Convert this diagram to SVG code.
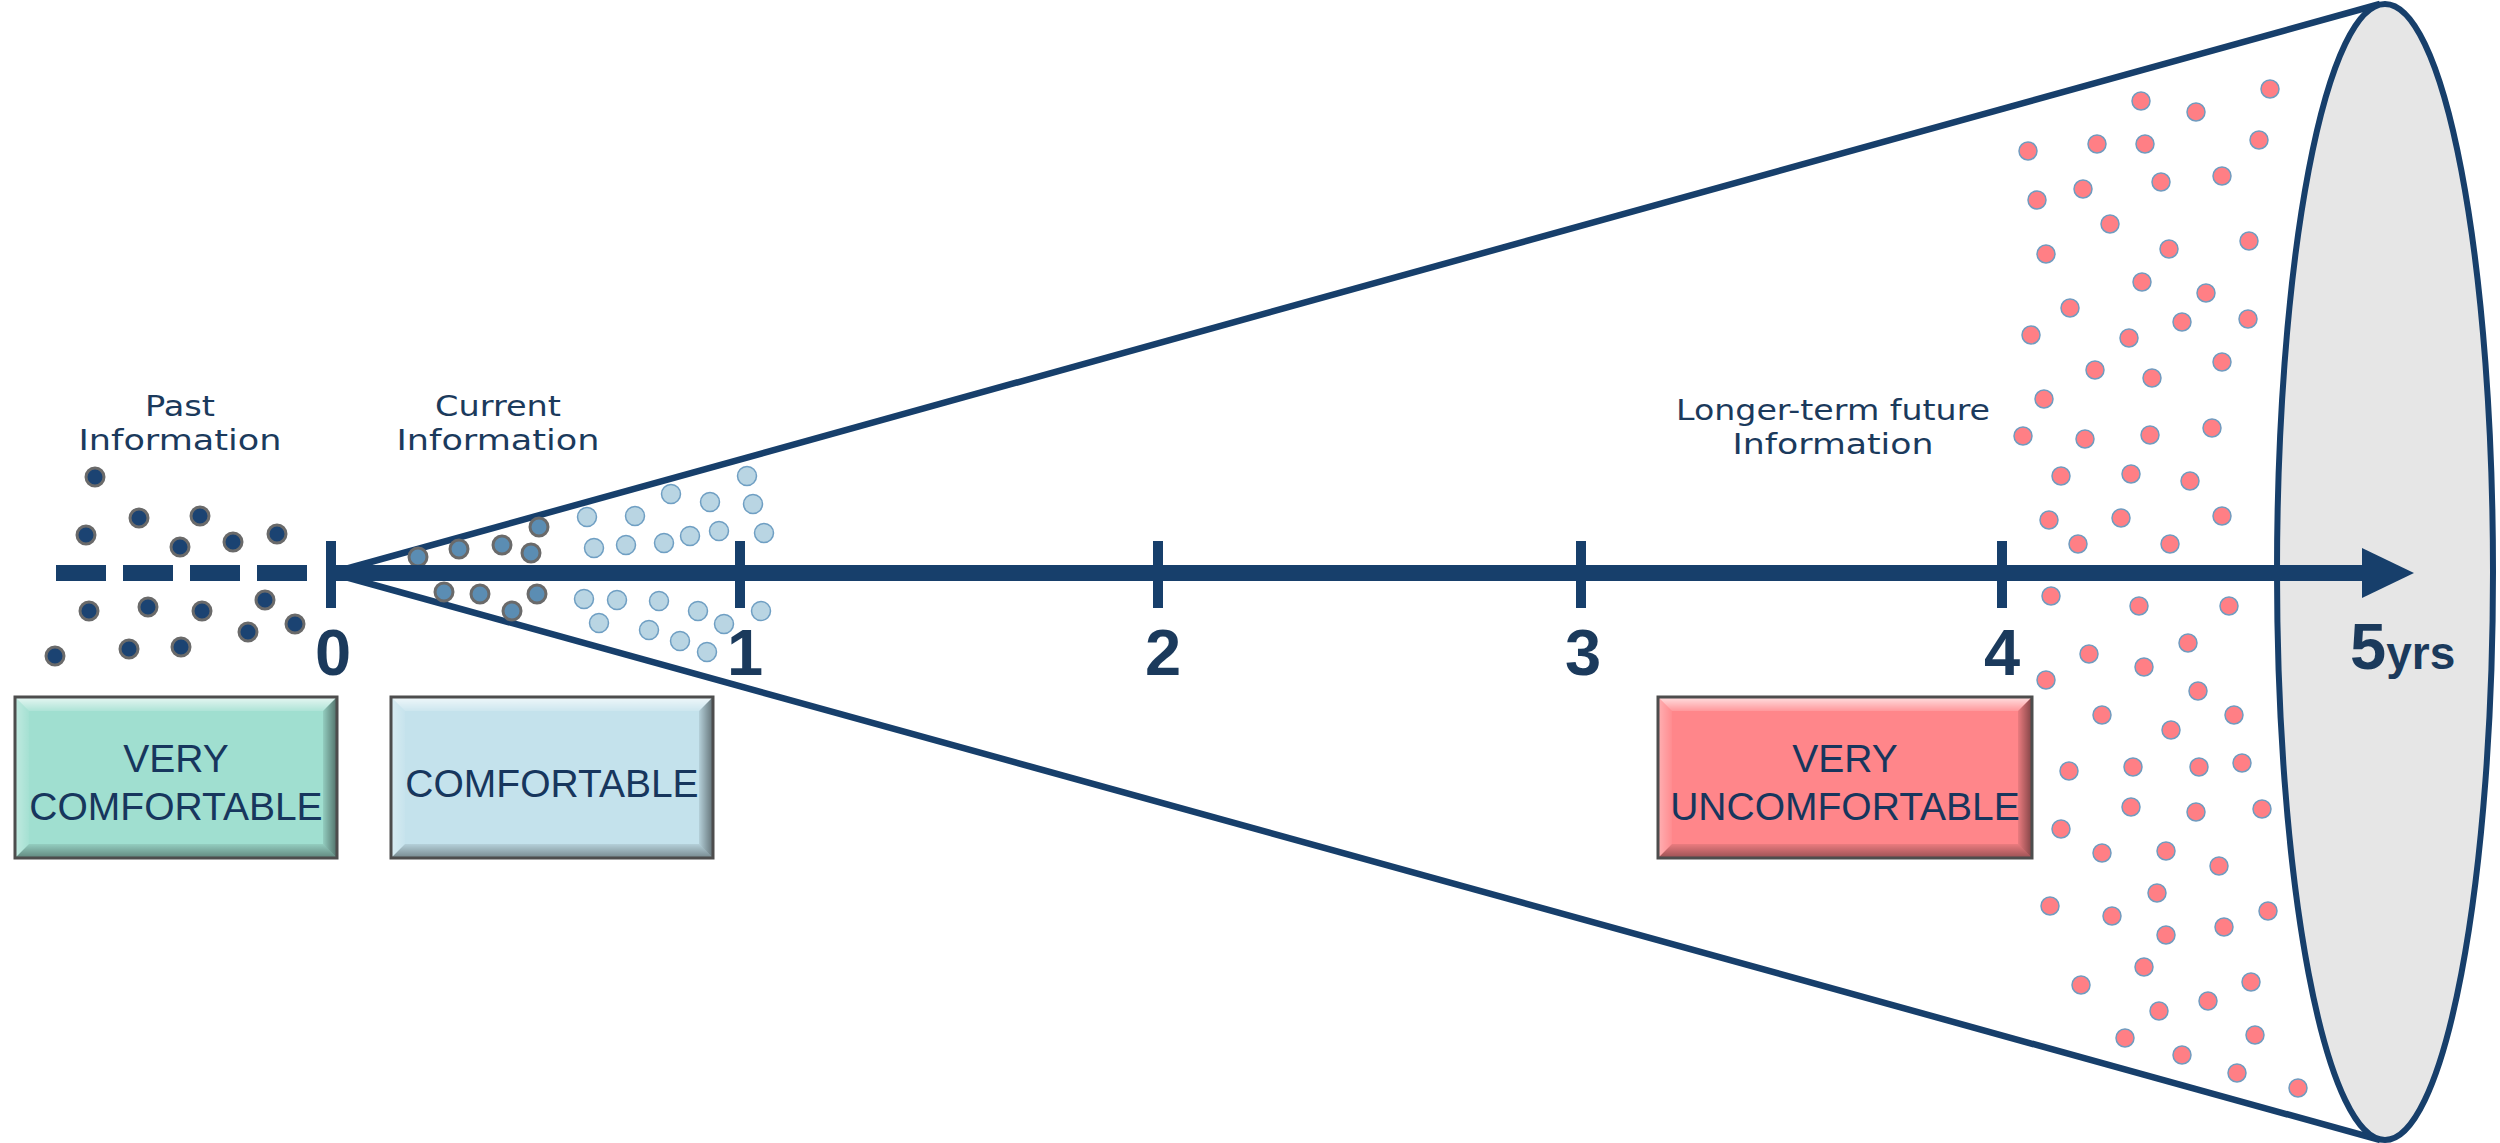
<svg xmlns="http://www.w3.org/2000/svg" width="2500" height="1143" viewBox="0 0 2500 1143">
<defs>
<style>
.ln{stroke:#173f6b;stroke-width:6.5;fill:none}
.lbl{font-family:"DejaVu Sans","Liberation Sans",sans-serif;font-size:28.5px;fill:#1b3a5c;text-anchor:middle}
.num{font-family:"Liberation Sans",Arial,sans-serif;font-weight:bold;font-size:65px;fill:#1b3a5c;text-anchor:middle}
.bx{font-family:"Liberation Sans",Arial,sans-serif;font-size:39px;fill:#17365d;text-anchor:middle}
.pd{fill:#1b4372;stroke:#6a6a6a;stroke-width:3}
.cd{fill:#5b8db3;stroke:#6a6a6a;stroke-width:3}
.lb{fill:#b9d5e3;stroke:#6f9fc3;stroke-width:1.5}
.rd{fill:#ff7f85;stroke:#6f9cc0;stroke-width:1.5}
.frame{stroke:#4d4d4d;stroke-width:3}
.bt{fill:url(#gt)}
.bb{fill:url(#gb)}
.bl{fill:url(#gl)}
.br{fill:url(#gr)}
</style>
<linearGradient id="gt" x1="0" y1="0" x2="0" y2="1"><stop offset="0" stop-color="#fff" stop-opacity="0.75"/><stop offset="1" stop-color="#fff" stop-opacity="0.15"/></linearGradient>
<linearGradient id="gb" x1="0" y1="0" x2="0" y2="1"><stop offset="0" stop-color="#000" stop-opacity="0.08"/><stop offset="1" stop-color="#000" stop-opacity="0.4"/></linearGradient>
<linearGradient id="gl" x1="0" y1="0" x2="1" y2="0"><stop offset="0" stop-color="#fff" stop-opacity="0.35"/><stop offset="1" stop-color="#fff" stop-opacity="0.05"/></linearGradient>
<linearGradient id="gr" x1="0" y1="0" x2="1" y2="0"><stop offset="0" stop-color="#000" stop-opacity="0.08"/><stop offset="1" stop-color="#000" stop-opacity="0.5"/></linearGradient>
</defs>
<rect width="2500" height="1143" fill="#fff"/>

<g id="cone">
<line class="ln" x1="331" y1="573" x2="2380" y2="4"/>
<line class="ln" x1="331" y1="573" x2="2380" y2="1140"/>
</g>

<g id="future-dots">
<circle class="rd" cx="2141" cy="101" r="9"/><circle class="rd" cx="2196" cy="112" r="9"/><circle class="rd" cx="2270" cy="89" r="9"/>
<circle class="rd" cx="2028" cy="151" r="9"/><circle class="rd" cx="2097" cy="144" r="9"/><circle class="rd" cx="2145" cy="144" r="9"/>
<circle class="rd" cx="2259" cy="140" r="9"/><circle class="rd" cx="2037" cy="200" r="9"/><circle class="rd" cx="2083" cy="189" r="9"/>
<circle class="rd" cx="2161" cy="182" r="9"/><circle class="rd" cx="2222" cy="176" r="9"/><circle class="rd" cx="2110" cy="224" r="9"/>
<circle class="rd" cx="2046" cy="254" r="9"/><circle class="rd" cx="2169" cy="249" r="9"/><circle class="rd" cx="2249" cy="241" r="9"/>
<circle class="rd" cx="2142" cy="282" r="9"/><circle class="rd" cx="2206" cy="293" r="9"/><circle class="rd" cx="2070" cy="308" r="9"/>
<circle class="rd" cx="2182" cy="322" r="9"/><circle class="rd" cx="2248" cy="319" r="9"/><circle class="rd" cx="2031" cy="335" r="9"/>
<circle class="rd" cx="2129" cy="338" r="9"/><circle class="rd" cx="2095" cy="370" r="9"/><circle class="rd" cx="2152" cy="378" r="9"/>
<circle class="rd" cx="2222" cy="362" r="9"/><circle class="rd" cx="2044" cy="399" r="9"/><circle class="rd" cx="2023" cy="436" r="9"/>
<circle class="rd" cx="2085" cy="439" r="9"/><circle class="rd" cx="2150" cy="435" r="9"/><circle class="rd" cx="2212" cy="428" r="9"/>
<circle class="rd" cx="2061" cy="476" r="9"/><circle class="rd" cx="2131" cy="474" r="9"/><circle class="rd" cx="2190" cy="481" r="9"/>
<circle class="rd" cx="2049" cy="520" r="9"/><circle class="rd" cx="2121" cy="518" r="9"/><circle class="rd" cx="2222" cy="516" r="9"/>
<circle class="rd" cx="2078" cy="544" r="9"/><circle class="rd" cx="2170" cy="544" r="9"/>
<circle class="rd" cx="2051" cy="596" r="9"/><circle class="rd" cx="2139" cy="606" r="9"/><circle class="rd" cx="2229" cy="606" r="9"/>
<circle class="rd" cx="2188" cy="643" r="9"/><circle class="rd" cx="2089" cy="654" r="9"/><circle class="rd" cx="2144" cy="667" r="9"/>
<circle class="rd" cx="2046" cy="680" r="9"/><circle class="rd" cx="2198" cy="691" r="9"/><circle class="rd" cx="2102" cy="715" r="9"/>
<circle class="rd" cx="2234" cy="715" r="9"/><circle class="rd" cx="2171" cy="730" r="9"/><circle class="rd" cx="2069" cy="771" r="9"/>
<circle class="rd" cx="2133" cy="767" r="9"/><circle class="rd" cx="2199" cy="767" r="9"/><circle class="rd" cx="2242" cy="763" r="9"/>
<circle class="rd" cx="2131" cy="807" r="9"/><circle class="rd" cx="2196" cy="812" r="9"/><circle class="rd" cx="2262" cy="809" r="9"/>
<circle class="rd" cx="2061" cy="829" r="9"/><circle class="rd" cx="2102" cy="853" r="9"/><circle class="rd" cx="2166" cy="851" r="9"/>
<circle class="rd" cx="2219" cy="866" r="9"/><circle class="rd" cx="2157" cy="893" r="9"/><circle class="rd" cx="2050" cy="906" r="9"/>
<circle class="rd" cx="2112" cy="916" r="9"/><circle class="rd" cx="2166" cy="935" r="9"/><circle class="rd" cx="2224" cy="927" r="9"/>
<circle class="rd" cx="2268" cy="911" r="9"/><circle class="rd" cx="2144" cy="967" r="9"/><circle class="rd" cx="2081" cy="985" r="9"/>
<circle class="rd" cx="2251" cy="982" r="9"/><circle class="rd" cx="2208" cy="1001" r="9"/><circle class="rd" cx="2159" cy="1011" r="9"/>
<circle class="rd" cx="2255" cy="1035" r="9"/><circle class="rd" cx="2125" cy="1038" r="9"/><circle class="rd" cx="2182" cy="1055" r="9"/>
<circle class="rd" cx="2237" cy="1073" r="9"/><circle class="rd" cx="2298" cy="1088" r="9"/>
</g>

<g id="end-ellipse">
<ellipse cx="2385" cy="572" rx="108" ry="568" fill="#e6e6e6" stroke="#173f6b" stroke-width="6"/>
</g>

<g id="past-dots">
<circle class="pd" cx="95" cy="477" r="9"/><circle class="pd" cx="139" cy="518" r="9"/><circle class="pd" cx="200" cy="516" r="9"/>
<circle class="pd" cx="86" cy="535" r="9"/><circle class="pd" cx="180" cy="547" r="9"/><circle class="pd" cx="233" cy="542" r="9"/>
<circle class="pd" cx="277" cy="534" r="9"/><circle class="pd" cx="89" cy="611" r="9"/><circle class="pd" cx="148" cy="607" r="9"/>
<circle class="pd" cx="202" cy="611" r="9"/><circle class="pd" cx="265" cy="600" r="9"/><circle class="pd" cx="295" cy="624" r="9"/>
<circle class="pd" cx="248" cy="632" r="9"/><circle class="pd" cx="55" cy="656" r="9"/><circle class="pd" cx="129" cy="649" r="9"/>
<circle class="pd" cx="181" cy="647" r="9"/>
</g>

<g id="current-dots">
<circle class="cd" cx="418" cy="557" r="9"/><circle class="cd" cx="459" cy="549" r="9"/><circle class="cd" cx="502" cy="545" r="9"/>
<circle class="cd" cx="539" cy="527" r="9"/><circle class="cd" cx="531" cy="553" r="9"/><circle class="cd" cx="444" cy="592" r="9"/>
<circle class="cd" cx="480" cy="594" r="9"/><circle class="cd" cx="512" cy="611" r="9"/><circle class="cd" cx="537" cy="594" r="9"/>
<circle class="lb" cx="587" cy="517" r="9.5"/><circle class="lb" cx="635" cy="516" r="9.5"/><circle class="lb" cx="671" cy="494" r="9.5"/>
<circle class="lb" cx="710" cy="502" r="9.5"/><circle class="lb" cx="747" cy="476" r="9.5"/><circle class="lb" cx="753" cy="504" r="9.5"/>
<circle class="lb" cx="594" cy="548" r="9.5"/><circle class="lb" cx="626" cy="545" r="9.5"/><circle class="lb" cx="664" cy="543" r="9.5"/>
<circle class="lb" cx="690" cy="536" r="9.5"/><circle class="lb" cx="719" cy="531" r="9.5"/><circle class="lb" cx="764" cy="533" r="9.5"/>
<circle class="lb" cx="584" cy="599" r="9.5"/><circle class="lb" cx="617" cy="600" r="9.5"/><circle class="lb" cx="659" cy="601" r="9.5"/>
<circle class="lb" cx="698" cy="611" r="9.5"/><circle class="lb" cx="724" cy="624" r="9.5"/><circle class="lb" cx="761" cy="611" r="9.5"/>
<circle class="lb" cx="599" cy="623" r="9.5"/><circle class="lb" cx="649" cy="630" r="9.5"/><circle class="lb" cx="680" cy="641" r="9.5"/>
<circle class="lb" cx="707" cy="652" r="9.5"/>
</g>

<g id="timeline">
<g fill="#173f6b">
<rect x="56" y="565" width="50" height="16"/>
<rect x="123" y="565" width="50" height="16"/>
<rect x="190" y="565" width="50" height="16"/>
<rect x="257" y="565" width="50" height="16"/>
<rect x="331" y="565" width="2035" height="16"/>
<polygon points="2362,548 2414,573 2362,598"/>
<rect x="326" y="541" width="10" height="67"/>
<rect x="735" y="541" width="10" height="67"/>
<rect x="1153" y="541" width="10" height="67"/>
<rect x="1576" y="541" width="10" height="67"/>
<rect x="1997" y="541" width="10" height="67"/>
</g>
<text class="num" x="333" y="675">0</text>
<text class="num" x="745" y="675">1</text>
<text class="num" x="1163" y="675">2</text>
<text class="num" x="1583" y="675">3</text>
<text class="num" x="2002" y="675">4</text>
<text class="num" x="2350" y="669" style="text-anchor:start">5<tspan font-size="46">yrs</tspan></text>
</g>

<g id="label-past">
<text class="lbl"><tspan x="180" y="416" textLength="70" lengthAdjust="spacingAndGlyphs">Past</tspan><tspan x="180" y="450" textLength="203" lengthAdjust="spacingAndGlyphs">Information</tspan></text>
</g>
<g id="label-current">
<text class="lbl"><tspan x="498" y="416" textLength="126" lengthAdjust="spacingAndGlyphs">Current</tspan><tspan x="498" y="450" textLength="203" lengthAdjust="spacingAndGlyphs">Information</tspan></text>
</g>
<g id="label-future">
<text class="lbl"><tspan x="1833" y="420" textLength="314" lengthAdjust="spacingAndGlyphs">Longer-term future</tspan><tspan x="1833" y="454" textLength="201" lengthAdjust="spacingAndGlyphs">Information</tspan></text>
</g>

<g id="box-very-comfortable">
<rect x="15" y="697" width="322" height="161" fill="#a0dfd0"/>
<polygon class="bt" points="15,697 337,697 323,711 29,711"/>
<polygon class="bb" points="15,858 337,858 323,844 29,844"/>
<polygon class="bl" points="15,697 29,711 29,844 15,858"/>
<polygon class="br" points="337,697 323,711 323,844 337,858"/>
<rect class="frame" x="15" y="697" width="322" height="161" fill="none"/>
<text class="bx"><tspan x="176" y="772">VERY</tspan><tspan x="176" y="820">COMFORTABLE</tspan></text>
</g>

<g id="box-comfortable">
<rect x="391" y="697" width="322" height="161" fill="#c4e2ec"/>
<polygon class="bt" points="391,697 713,697 699,711 405,711"/>
<polygon class="bb" points="391,858 713,858 699,844 405,844"/>
<polygon class="bl" points="391,697 405,711 405,844 391,858"/>
<polygon class="br" points="713,697 699,711 699,844 713,858"/>
<rect class="frame" x="391" y="697" width="322" height="161" fill="none"/>
<text class="bx" x="552" y="797">COMFORTABLE</text>
</g>

<g id="box-very-uncomfortable">
<rect x="1658" y="697" width="374" height="161" fill="#ff868a"/>
<polygon class="bt" points="1658,697 2032,697 2018,711 1672,711"/>
<polygon class="bb" points="1658,858 2032,858 2018,844 1672,844"/>
<polygon class="bl" points="1658,697 1672,711 1672,844 1658,858"/>
<polygon class="br" points="2032,697 2018,711 2018,844 2032,858"/>
<rect class="frame" x="1658" y="697" width="374" height="161" fill="none"/>
<text class="bx"><tspan x="1845" y="772">VERY</tspan><tspan x="1845" y="820">UNCOMFORTABLE</tspan></text>
</g>
</svg>
